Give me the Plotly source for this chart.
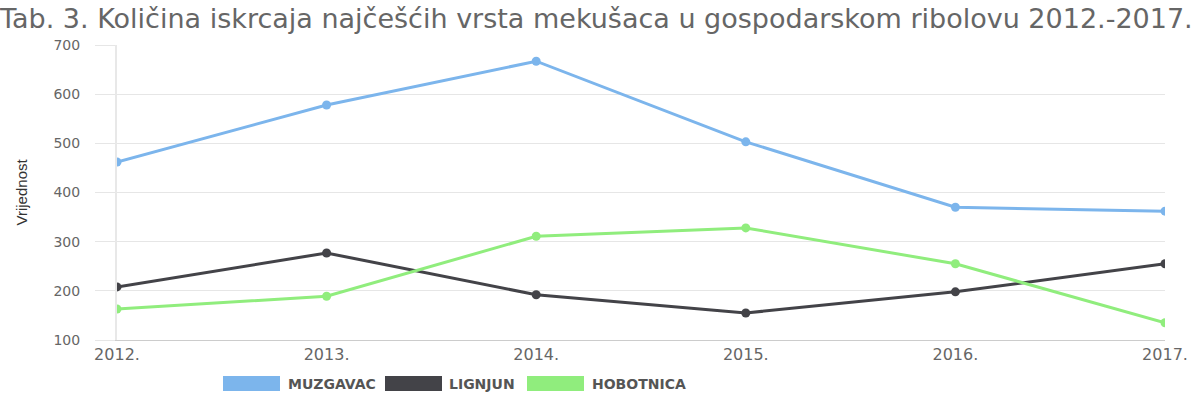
import plotly.graph_objects as go

years = ["2012.", "2013.", "2014.", "2015.", "2016.", "2017."]
muzgavac = [462, 578, 667, 503, 370, 362]
lignjun = [208, 277, 192, 155, 198, 255]
hobotnica = [163, 189, 311, 328, 255, 135]
series_names = ["MUZGAVAC", "LIGNJUN", "HOBOTNICA"]
colors = ["#7cb5ec", "#434348", "#90ed7d"]
y_ticks = [100, 200, 300, 400, 500, 600, 700]

W, H = 1200, 400
L, R, T, B = 117, 35, 45, 60
pw, ph = W - L - R, H - T - B

def px_x(x):
    return (x - L) / pw

def px_y(y):
    return (H - B - y) / ph

FONT = "DejaVu Sans"

fig = go.Figure()
for name, vals, col in zip(series_names, [muzgavac, lignjun, hobotnica], colors):
    fig.add_trace(go.Scatter(
        x=years, y=vals, name=name, mode="lines+markers",
        line=dict(color=col, width=3),
        marker=dict(color=col, size=9),
        showlegend=False,
    ))

shapes = []
annotations = []
# manual legend
legend_items = [(223, 286), (385, 447), (527, 590)]
for (rx, tx), name, col in zip(legend_items, series_names, colors):
    shapes.append(dict(type="rect", xref="paper", yref="paper",
                       x0=px_x(rx), x1=px_x(rx + 57), y0=px_y(391), y1=px_y(376),
                       fillcolor=col, line=dict(width=0)))
    annotations.append(dict(text=name, xref="paper", yref="paper",
                            x=px_x(tx), y=px_y(383.5), xanchor="left", yanchor="middle",
                            showarrow=False,
                            font=dict(family=FONT, size=14, color="#555555", weight="bold")))

annotations.append(dict(text="Vrijednost", xref="paper", yref="paper",
                        x=px_x(21), y=0.5, textangle=-90, showarrow=False,
                        xanchor="center", yanchor="middle",
                        font=dict(family="Liberation Sans Narrow, Liberation Sans", size=15, color="#333333")))

fig.update_layout(
    width=W, height=H,
    margin=dict(l=L, r=R, t=T, b=B, autoexpand=False),
    paper_bgcolor="white", plot_bgcolor="white",
    title=dict(text="Tab. 3. Količina iskrcaja najčešćih vrsta mekušaca u gospodarskom ribolovu 2012.-2017.",
               x=0.0, xanchor="left", xref="container", y=1 - 19 / H, yanchor="middle",
               pad=dict(l=0),
               font=dict(family=FONT, size=27, color="#666666")),
    xaxis=dict(
        type="category", range=[0, len(years) - 1],
        showgrid=False, zeroline=False,
        showline=True, linecolor="#cccccc", linewidth=1,
        tickfont=dict(family=FONT, size=16, color="#666666"),
        ticks="", ticklabelstandoff=0,
    ),
    yaxis=dict(
        range=[100, 700], tickvals=y_ticks,
        showgrid=True, gridcolor="#e6e6e6", gridwidth=1,
        zeroline=False,
        showline=True, linecolor="#e8e8e8", linewidth=2,
        ticks="outside", ticklen=20, tickcolor="#e6e6e6", tickwidth=1,
        tickfont=dict(family=FONT, size=14, color="#666666"),
        ticklabelstandoff=12,
    ),
    shapes=shapes,
    annotations=annotations,
)

fig.write_html("out.html")
